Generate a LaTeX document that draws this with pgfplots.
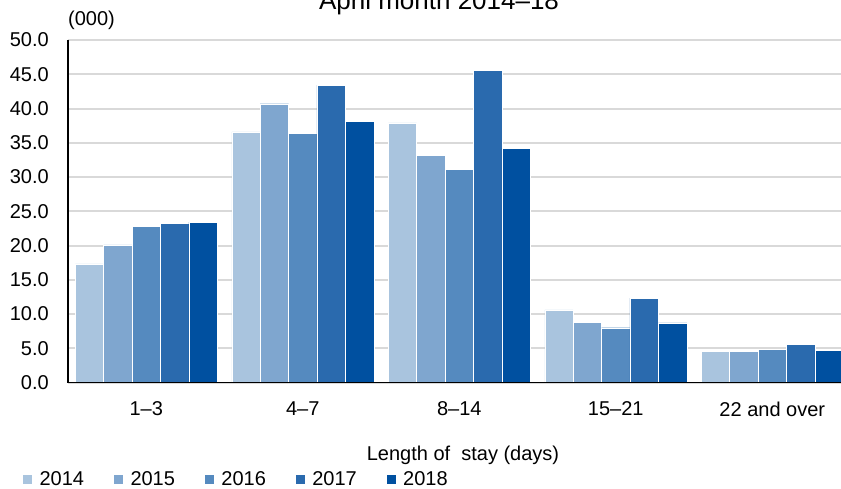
\documentclass[border=0pt]{standalone}
\usepackage{fontspec}
\setmainfont{Liberation Sans}
\usepackage{pgfplots}
\pgfplotsset{compat=1.18}
\definecolor{c14}{HTML}{A9C4DE}
\definecolor{c15}{HTML}{7FA6CF}
\definecolor{c16}{HTML}{558ABF}
\definecolor{c17}{HTML}{2A6AAE}
\definecolor{c18}{HTML}{0050A0}
\definecolor{gridc}{HTML}{D9D9D9}
\begin{document}
\begin{tikzpicture}
\begin{axis}[
  name=ax,
  scale only axis,
  width=773pt, height=342.5pt,
  ybar=0pt, bar width=28.4pt,
  xmin=-0.5, xmax=4.439,
  ymin=0, ymax=50,
  ytick={0,5,...,50},
  xtick={0,1,2,3,4},
  xticklabels={1--3,4--7,8--14,15--21,22 and over},
  major tick length=0pt,
  axis x line*=bottom, axis y line*=left,
  axis line style={black, line width=1.5pt},
  x axis line style={-}, y axis line style={-},
  ymajorgrids, grid style={gridc, line width=2pt},
  tick label style={font=\fontsize{20}{24}\selectfont},
  /pgf/number format/assume math mode=true,
  yticklabel style={inner sep=0pt, xshift=-19pt, /pgf/number format/.cd, fixed, fixed zerofill, precision=1},
  xticklabel style={inner sep=0pt, yshift=-19pt, anchor=north},
  legend columns=5,
  legend style={at={(-0.0595,-0.2818)}, anchor=west, draw=none, fill=none, inner sep=0pt,
    font=\fontsize{20}{24}\selectfont,
    /tikz/every odd column/.append style={column sep=5pt},
    /tikz/every even column/.append style={column sep=27pt}},
  legend image code/.code={\fill[#1] (0pt,-5pt) rectangle (10pt,5pt);},
  clip mode=individual,
]
\addplot[fill=c14, draw=white, line width=0.4pt] coordinates {(0,17.3) (1,36.6) (2,37.9) (3,10.6) (4,4.5)};
\addplot[fill=c15, draw=white, line width=0.4pt] coordinates {(0,20.1) (1,40.7) (2,33.2) (3,8.8) (4,4.5)};
\addplot[fill=c16, draw=white, line width=0.4pt] coordinates {(0,22.8) (1,36.4) (2,31.1) (3,8.0) (4,4.8)};
\addplot[fill=c17, draw=white, line width=0.4pt] coordinates {(0,23.2) (1,43.4) (2,45.6) (3,12.3) (4,5.6)};
\addplot[fill=c18, draw=white, line width=0.4pt] coordinates {(0,23.4) (1,38.1) (2,34.2) (3,8.7) (4,4.7)};
\legend{2014,2015,2016,2017,2018}
\draw[black, line width=1.5pt] (axis description cs:0,0) -- (axis description cs:1,0);
\node[anchor=base, inner sep=0pt, font=\fontsize{26}{30}\selectfont] at (axis description cs:0.48,1.0876) {April month 2014–18};
\node[anchor=base west, inner sep=0pt, font=\fontsize{20}{24}\selectfont] at (axis description cs:0,1.0438) {(000)};
\node[anchor=base, inner sep=0pt, font=\fontsize{20}{24}\selectfont] at (axis description cs:0.511,-0.2263) {Length of \ stay (days)};
\end{axis}
\pgfresetboundingbox
\path[use as bounding box] ([shift={(-68pt,-105.5pt)}]ax.south west) rectangle ([shift={(0pt,40pt)}]ax.north east);
\end{tikzpicture}
\end{document}
